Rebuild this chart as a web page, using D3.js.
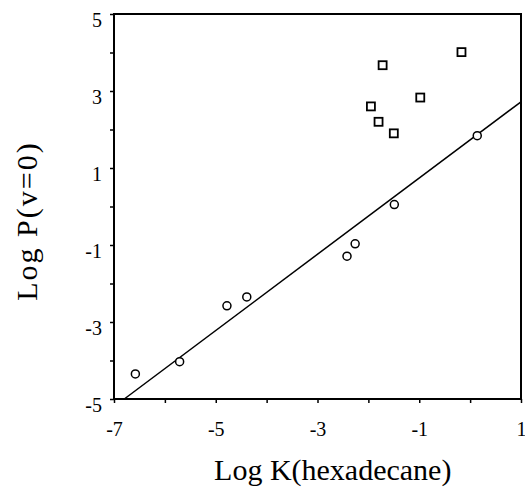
<!DOCTYPE html>
<html>
<head>
<meta charset="utf-8">
<script src="https://cdn.jsdelivr.net/npm/d3@7"></script>
<style>
  body { margin: 0; background: #fff; }
  svg text { font-family: "Liberation Serif", "Times New Roman", serif; fill: #000; }
</style>
</head>
<body>
<div id="chart"></div>
<script>
// circles: points on the fitted line
const circleX = [-6.58, -5.71, -4.78, -4.39, -2.42, -2.26, -1.49, 0.14];
const circleY = [-4.35, -4.03, -2.58, -2.35, -1.29, -0.97, 0.05, 1.84];

// squares: outliers above the line
const squareX = [-0.17, -1.72, -0.98, -1.95, -1.80, -1.50];
const squareY = [4.01, 3.67, 2.83, 2.60, 2.20, 1.90];

// fitted line y = slope * x + intercept
const fitSlope = 0.99;
const fitIntercept = 1.73;

const xTickLabels = [-7, -5, -3, -1, 1];
const yTickLabels = [-5, -3, -1, 1, 3, 5];

const W = 525, H = 487;
const margin = {top: 14, right: 4, bottom: 88, left: 114};
const width = W - margin.left - margin.right;
const height = H - margin.top - margin.bottom;

const svg = d3.select("#chart").append("svg")
  .attr("width", W)
  .attr("height", H);

const g = svg.append("g")
  .attr("transform", `translate(${margin.left},${margin.top})`);

const x = d3.scaleLinear().domain([-7, 1]).range([0, width]);
const y = d3.scaleLinear().domain([-5, 5]).range([height, 0]);

// axes: ticks at every integer, labels on odd values
const xAxis = g.append("g")
  .attr("transform", `translate(0,${height})`)
  .call(d3.axisBottom(x).tickValues(d3.range(-7, 2)).tickSize(4).tickPadding(19)
    .tickFormat(d => xTickLabels.includes(d) ? d : ""));

const yAxis = g.append("g")
  .call(d3.axisLeft(y).tickValues(d3.range(-5, 6)).tickSize(4).tickPadding(8)
    .tickFormat(d => yTickLabels.includes(d) ? d : ""));

[xAxis, yAxis].forEach(a => {
  a.select(".domain").remove();
  a.selectAll("line").attr("stroke", "#000").attr("stroke-width", 1.5);
  a.selectAll("text").style("font-size", "20px").attr("fill", "#000");
});
yAxis.selectAll("text").attr("dy", "0.6em");

// frame
g.append("rect")
  .attr("x", 0).attr("y", 0)
  .attr("width", width).attr("height", height)
  .attr("fill", "none")
  .attr("stroke", "#000")
  .attr("stroke-width", 2);

// regression line clipped to the frame
const xStart = (-5 - fitIntercept) / fitSlope;
g.append("line")
  .attr("x1", x(xStart)).attr("y1", y(-5))
  .attr("x2", x(1)).attr("y2", y(fitSlope * 1 + fitIntercept))
  .attr("stroke", "#000")
  .attr("stroke-width", 1.5);

g.selectAll(".circ")
  .data(circleX.map((d, i) => [d, circleY[i]]))
  .enter().append("circle")
  .attr("cx", d => x(d[0]))
  .attr("cy", d => y(d[1]))
  .attr("r", 4)
  .attr("fill", "#fff")
  .attr("stroke", "#000")
  .attr("stroke-width", 1.5);

g.selectAll(".sq")
  .data(squareX.map((d, i) => [d, squareY[i]]))
  .enter().append("rect")
  .attr("x", d => x(d[0]) - 4)
  .attr("y", d => y(d[1]) - 4)
  .attr("width", 8)
  .attr("height", 8)
  .attr("fill", "#fff")
  .attr("stroke", "#000")
  .attr("stroke-width", 1.8);

// axis titles
svg.append("text")
  .attr("x", margin.left + x(-2.7))
  .attr("y", 480)
  .attr("text-anchor", "middle")
  .style("font-size", "30px")
  .text("Log K(hexadecane)");

svg.append("text")
  .attr("transform", `translate(37,221) rotate(-90)`)
  .attr("text-anchor", "middle")
  .style("font-size", "30px")
  .style("letter-spacing", "2px")
  .text("Log P(v=0)");
</script>
</body>
</html>
